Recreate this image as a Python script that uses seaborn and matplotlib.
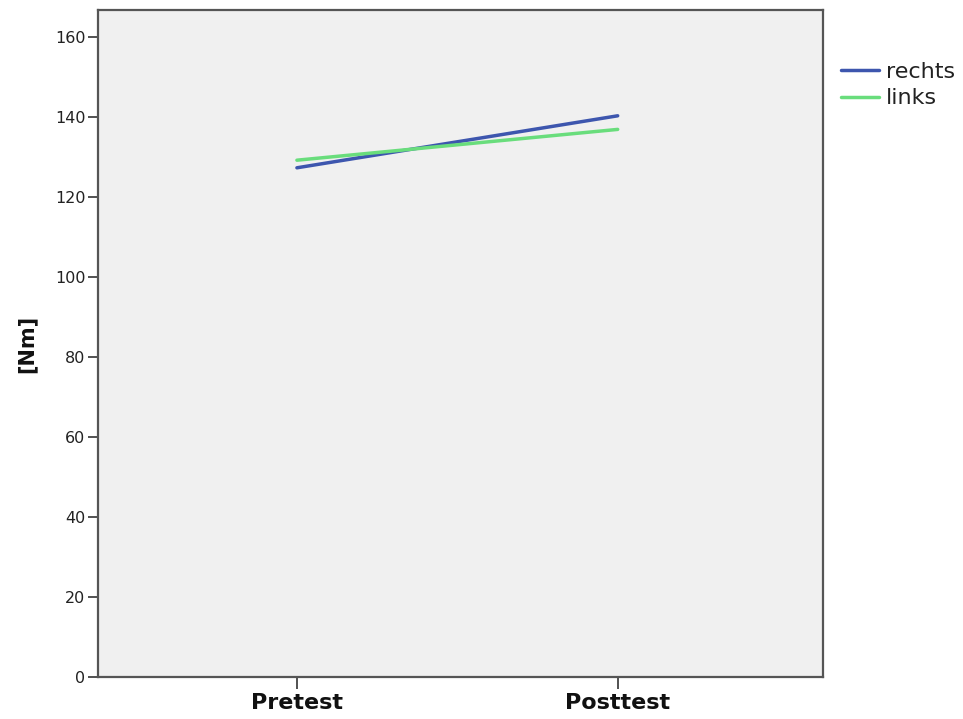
import pandas as pd
import matplotlib.pyplot as plt
import seaborn as sns

# data
TIMES = ['Pretest', 'Posttest']
RECHTS = [127.3, 140.3]
LINKS = [129.2, 136.9]
Y_TICKS = [0, 20, 40, 60, 80, 100, 120, 140, 160]

df = pd.DataFrame({
    'Zeit': TIMES * 2,
    'Nm': RECHTS + LINKS,
    'Seite': ['rechts'] * 2 + ['links'] * 2,
})

sns.set_style('ticks')
plt.rcParams['font.family'] = ['DejaVu Sans']

fig = plt.figure(figsize=(9.63, 7.19), dpi=100)
ax = fig.add_axes([0.1018, 0.0584, 0.7528, 0.9277])
ax.set_facecolor('#F0F0F0')

sns.lineplot(data=df, x='Zeit', y='Nm', hue='Seite', sort=False,
             palette={'rechts': '#3D56AE', 'links': '#69DD7C'},
             linewidth=2.5, ax=ax)

ax.set_xlim(-0.62, 1.64)
ax.set_ylim(0, 166.75)
ax.set_yticks(Y_TICKS)
ax.tick_params(axis='y', labelsize=11.5, length=7.5, width=1.2, color='#333333',
               labelcolor='#222222', pad=1.5, direction='out')
ax.tick_params(axis='x', labelsize=16, length=8.5, width=1.2, color='#333333',
               labelcolor='#111111', pad=3, direction='out')
for lbl in ax.get_xticklabels():
    lbl.set_fontweight('bold')
ax.set_xlabel('')
ax.set_ylabel('[Nm]', fontsize=15, fontweight='bold', labelpad=13, color='#111111')

for sp in ax.spines.values():
    sp.set_color('#555555')
    sp.set_linewidth(1.6)

ax.legend(loc='upper left', bbox_to_anchor=(1.012, 0.935), frameon=False,
          fontsize=16, handlelength=1.75, handletextpad=0.3, labelspacing=0.28,
          borderaxespad=0, labelcolor='#222222')

fig.savefig('out.png', dpi=100)
